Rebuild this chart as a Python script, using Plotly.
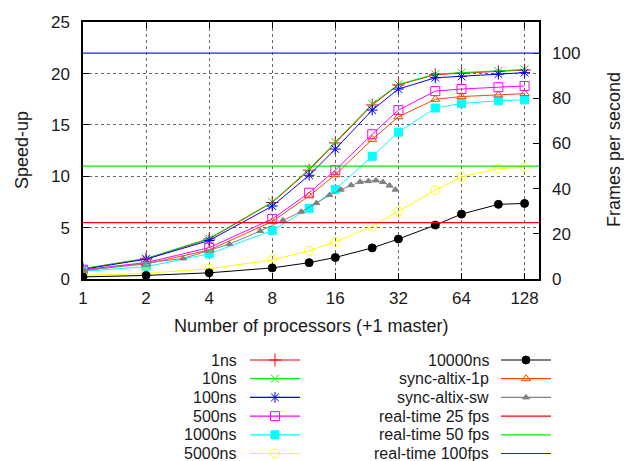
import math
import plotly.graph_objects as go

# ---------------- data ----------------
procs = [1, 2, 4, 8, 12, 16, 24, 32, 48, 64, 96, 128]
s_1ns = [1.0, 1.98, 3.9, 7.45, 10.6, 13.25, 16.95, 18.9, 19.9, 20.05, 20.2, 20.35]
s_10ns = [1.0, 2.0, 3.95, 7.5, 10.7, 13.35, 17.05, 18.95, 19.95, 20.1, 20.25, 20.4]
s_100ns = [0.95, 1.93, 3.75, 7.1, 10.1, 12.65, 16.45, 18.5, 19.6, 19.72, 19.95, 20.1]
s_500ns = [0.9, 1.6, 3.05, 5.85, 8.4, 10.6, 14.1, 16.45, 18.3, 18.5, 18.68, 18.8]
s_1000ns = [0.75, 1.2, 2.45, 4.72, 6.88, 8.72, 11.95, 14.3, 16.65, 17.1, 17.35, 17.45]
s_5000ns = [0.35, 0.55, 1.0, 1.85, 2.75, 3.62, 5.12, 6.57, 8.66, 9.95, 10.75, 10.87]
s_10000ns = [0.2, 0.35, 0.6, 1.08, 1.59, 2.1, 3.03, 3.89, 5.25, 6.32, 7.27, 7.36]
s_altix_1p = [0.85, 1.47, 2.82, 5.6, 8.1, 10.15, 13.6, 15.8, 17.5, 17.77, 17.93, 18.06]
sw_procs = [1, 3, 5, 7, 9, 11, 13, 15, 17, 19, 21, 23, 25, 27, 29, 31]
s_altix_sw = [0.8, 2.0, 3.4, 4.67, 5.71, 6.55, 7.39, 8.17, 8.7, 9.14, 9.46, 9.53, 9.6, 9.44, 9.1, 8.7]
fps_levels = [25, 50, 100]
fps_names = ["real-time 25 fps", "real-time 50 fps", "real-time 100fps"]
x_ticks = [1, 2, 4, 8, 16, 32, 64, 128]
y_ticks = [0, 5, 10, 15, 20, 25]
y2_ticks = [0, 20, 40, 60, 80, 100]

# ---------------- style ----------------
W, H = 624, 461
FONT = "Liberation Sans"
FS_TICK = 17
FS_TITLE = 18
FS_LEG = 16
TXT = "#1a1a1a"
plot_l, plot_r, plot_t, plot_b = 83, 539, 22.3, 279
speed_max = 25
fps_per_speedup = 100 / 22.0

series = [
    ("1ns", procs, s_1ns, "#ff0000", "cross-thin-open", 9),
    ("10ns", procs, s_10ns, "#00ee00", "x-thin-open", 8),
    ("100ns", procs, s_100ns, "#0000ff", "asterisk-open", 9),
    ("500ns", procs, s_500ns, "#ff00ff", "square-open", 9),
    ("1000ns", procs, s_1000ns, "#00ffff", "square", 8),
    ("5000ns", procs, s_5000ns, "#ffff00", "circle-open", 9),
    ("10000ns", procs, s_10000ns, "#000000", "circle", 8),
    ("sync-altix-1p", procs, s_altix_1p, "#ff4500", "triangle-up-open", 8),
    ("sync-altix-sw", sw_procs, s_altix_sw, "#808080", "triangle-up", 6),
]
fps_colors = ["#ff0000", "#00ee00", "#2020ff"]

fig = go.Figure()

for name, xs, ys, col, sym, sz in series:
    fig.add_trace(go.Scatter(
        x=xs, y=ys, mode="lines+markers", name=name, showlegend=False,
        line=dict(color=col, width=1),
        marker=dict(symbol=sym, size=sz, color=col, line=dict(color=col, width=1)),
        xaxis="x", yaxis="y",
    ))

# invisible trace to activate the right axis
fig.add_trace(go.Scatter(x=[procs[0]], y=[fps_levels[0]], mode="markers",
                         marker=dict(opacity=0), showlegend=False,
                         hoverinfo="skip", xaxis="x", yaxis="y2"))

shapes = []
for lvl, col in zip(fps_levels, fps_colors):
    shapes.append(dict(type="line", xref="x domain", x0=0, x1=1, yref="y2",
                       y0=lvl, y1=lvl, line=dict(color=col, width=1.2), layer="above"))

# ---------------- custom gnuplot-like legend ----------------
legend_items = [(s[0], s[3], s[4], s[5], True) for s in series] + \
               [(n, c, None, 0, False) for n, c in zip(fps_names, fps_colors)]
row_y0, row_dy = 360, 18.7
col_text_x = [238, 490]
col_line_x = [(250, 300), (501, 551)]
annotations = []
for i, (name, col, sym, sz, has_marker) in enumerate(legend_items):
    c, r = divmod(i, 6)
    yy = row_y0 + r * row_dy
    x0, x1 = col_line_x[c]
    fig.add_trace(go.Scatter(x=[x0, x1], y=[yy, yy], mode="lines",
                             line=dict(color=col, width=1.2), showlegend=False,
                             hoverinfo="skip", xaxis="x3", yaxis="y3", cliponaxis=False))
    if has_marker:
        fig.add_trace(go.Scatter(x=[(x0 + x1) / 2], y=[yy], mode="markers",
                                 marker=dict(symbol=sym, size=sz, color=col,
                                             line=dict(color=col, width=1)),
                                 showlegend=False, hoverinfo="skip",
                                 xaxis="x3", yaxis="y3", cliponaxis=False))
    annotations.append(dict(text=name, x=col_text_x[c], y=yy, xref="x3", yref="y3",
                            xanchor="right", yanchor="middle", showarrow=False,
                            borderpad=0,
                            font=dict(family=FONT, size=FS_LEG, color=TXT)))

# axis titles
annotations.append(dict(text="Speed-up", x=22 / W, y=1 - 150 / H, xref="paper", yref="paper",
                        textangle=-90, showarrow=False, xanchor="center", yanchor="middle",
                        font=dict(family=FONT, size=FS_TITLE, color=TXT)))
annotations.append(dict(text="Frames per second", x=614 / W, y=1 - 150 / H, xref="paper",
                        yref="paper", textangle=-90, showarrow=False, xanchor="center",
                        yanchor="middle", font=dict(family=FONT, size=FS_TITLE, color=TXT)))
annotations.append(dict(text="Number of processors (+1 master)", x=(plot_l + plot_r) / 2 / W,
                        y=1 - 326 / H, xref="paper", yref="paper", showarrow=False,
                        xanchor="center", yanchor="middle",
                        font=dict(family=FONT, size=FS_TITLE, color=TXT)))

grid = dict(showgrid=True, gridcolor="#666666", griddash="dot", gridwidth=1)
fig.update_layout(
    width=W, height=H, margin=dict(l=0, r=0, t=0, b=0, autoexpand=False),
    paper_bgcolor="white", plot_bgcolor="white",
    font=dict(family=FONT, size=FS_TICK, color=TXT),
    showlegend=False,
    xaxis=dict(type="log", range=[0, math.log10(150)],
               domain=[plot_l / W, plot_r / W], anchor="y", automargin=False,
               tickvals=x_ticks, ticktext=[str(t) for t in x_ticks],
               ticks="inside", ticklen=6, tickcolor="black",
               showline=True, linecolor="black", linewidth=1.5, mirror="ticks",
               ticklabelstandoff=3, zeroline=False, **grid),
    yaxis=dict(range=[0, speed_max], domain=[1 - plot_b / H, 1 - plot_t / H], anchor="x",
               automargin=False,
               tickvals=y_ticks, ticks="inside", ticklen=6, tickcolor="black",
               showline=True, linecolor="black", linewidth=1.5, mirror=True,
               ticklabelstandoff=8, zeroline=False, **grid),
    yaxis2=dict(range=[0, speed_max * fps_per_speedup], overlaying="y", side="right",
                anchor="x", automargin=False, tickvals=y2_ticks, ticks="inside", ticklen=6,
                tickcolor="black", showgrid=False, zeroline=False,
                ticklabelstandoff=12, showline=False),
    xaxis3=dict(domain=[0, 1], range=[0, W], visible=False, anchor="y3", automargin=False),
    yaxis3=dict(domain=[0, (H - 345) / H], range=[H, 345], visible=False, anchor="x3",
                automargin=False),
    shapes=shapes,
    annotations=annotations,
)

fig.write_html("out.html")
